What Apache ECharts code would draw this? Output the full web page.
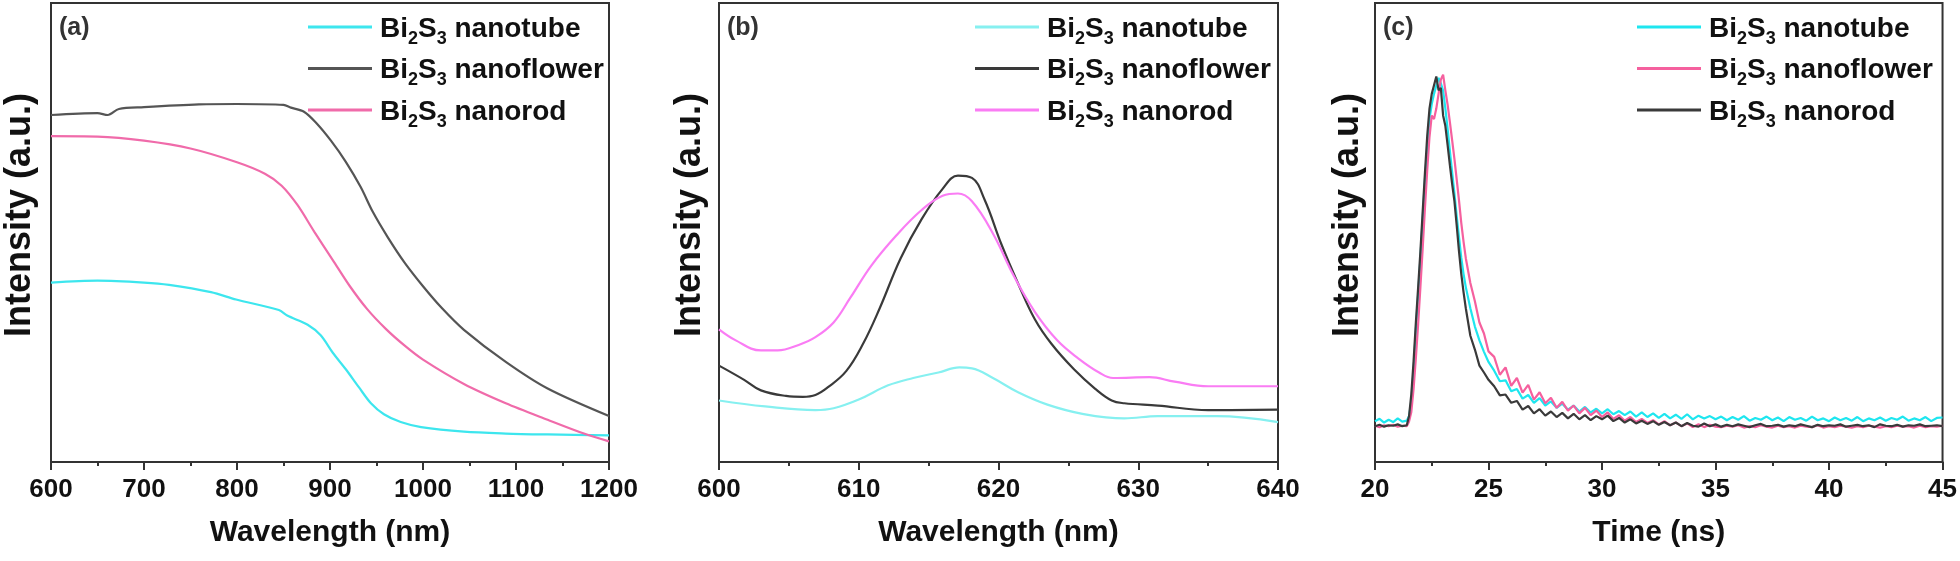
<!DOCTYPE html>
<html>
<head>
<meta charset="utf-8">
<script src="https://cdn.jsdelivr.net/npm/echarts@6/dist/echarts.min.js"></script>
<style>
html,body{margin:0;padding:0;background:#fff;}
#c{width:1960px;height:561px;}
</style>
</head>
<body>
<div id="c"></div>
<script>
// ---------- Panel (a): absorption ----------
const aTubeX = [600, 650, 700, 727, 772, 799, 845, 854, 876, 890, 903, 917, 931, 944, 958, 976, 998, 1044, 1089, 1134, 1200];
const aTubeY = [39.1, 39.5, 39.1, 38.6, 37.0, 35.4, 33.1, 31.9, 29.9, 27.6, 23.8, 20.2, 16.3, 12.8, 10.4, 8.7, 7.6, 6.6, 6.2, 6.0, 5.8];
const aFlowerX = [600, 650, 661, 673, 700, 759, 800, 850, 858, 872, 885, 901, 917, 933, 946, 962, 980, 1000, 1020, 1044, 1089, 1134, 1200];
const aFlowerY = [75.6, 76.0, 75.6, 76.9, 77.3, 77.9, 78.0, 77.8, 77.2, 76.3, 73.9, 70.0, 65.4, 59.9, 54.5, 49.0, 43.5, 38.3, 33.6, 28.8, 21.8, 16.0, 10.0];
const aRodX = [600, 650, 700, 750, 800, 830, 848, 865, 883, 903, 921, 940, 960, 980, 1000, 1044, 1089, 1134, 1173, 1200];
const aRodY = [71.0, 70.9, 70.0, 68.3, 65.3, 62.8, 60.2, 56.0, 50.2, 44.0, 38.4, 33.3, 29.0, 25.4, 22.3, 17.0, 12.8, 9.2, 6.2, 4.5];

// ---------- Panel (b): PL ----------
const bTubeX = [600, 603.3, 606.9, 608.2, 610, 612.1, 613.9, 615.7, 617.2, 618.1, 619.6, 621.4, 623.5, 626, 629, 631.4, 635.6, 640];
const bTubeY = [13.4, 12.1, 11.3, 11.7, 13.6, 16.7, 18.3, 19.5, 20.6, 20.4, 18.3, 15.2, 12.5, 10.5, 9.5, 10.0, 10.0, 8.7];
const bFlowerX = [600, 601.8, 603, 604.8, 606, 606.9, 607.8, 609.1, 610.3, 611.5, 613, 614.5, 616, 617.1, 618.1, 619, 620.2, 621.4, 622.6, 623.8, 625.4, 626.9, 628.1, 629, 631.4, 635, 640];
const bFlowerY = [21.0, 17.9, 15.6, 14.4, 14.2, 14.6, 16.3, 19.8, 25.7, 33.5, 44.4, 52.9, 59.5, 62.4, 61.9, 57.2, 47.5, 38.9, 31.1, 25.7, 20.2, 16.0, 13.4, 12.8, 12.3, 11.3, 11.4];
const bRodX = [600, 601.2, 603, 604.2, 605.7, 606.9, 608.2, 609.4, 610.9, 612.7, 614.5, 616, 617.1, 618.1, 619.6, 621.1, 622.6, 624.2, 625.7, 627.2, 628.2, 630.8, 632.6, 635, 640];
const bRodY = [28.9, 26.5, 24.3, 24.3, 25.5, 27.2, 30.4, 35.8, 42.8, 49.4, 54.9, 58.0, 58.5, 56.8, 49.8, 40.5, 32.7, 26.5, 22.6, 19.5, 18.3, 18.5, 17.5, 16.5, 16.5];

// ---------- Panel (c): TRPL ----------
const cTime = [20.0, 20.2, 20.4, 20.6, 20.8, 21.0, 21.2, 21.4,
  21.5, 21.6, 21.7, 21.8, 21.9, 22.0, 22.1, 22.2, 22.3, 22.4, 22.5, 22.6, 22.7, 22.8, 22.9, 23.0, 23.1, 23.2, 23.3, 23.4, 23.5, 23.6, 23.7, 23.8, 23.9, 24.0,
  24.2, 24.4, 24.6, 24.8, 25.0,
  25.25, 25.5, 25.75, 26.0, 26.25, 26.5, 26.75, 27.0, 27.25, 27.5, 27.75, 28.0, 28.25, 28.5, 28.75, 29.0, 29.25, 29.5, 29.75, 30.0,
  30.25, 30.5, 30.75, 31.0, 31.25, 31.5, 31.75, 32.0, 32.25, 32.5, 32.75, 33.0, 33.25, 33.5, 33.75, 34.0, 34.25, 34.5, 34.75, 35.0,
  35.25, 35.5, 35.75, 36.0, 36.25, 36.5, 36.75, 37.0, 37.25, 37.5, 37.75, 38.0, 38.25, 38.5, 38.75, 39.0, 39.25, 39.5, 39.75, 40.0,
  40.25, 40.5, 40.75, 41.0, 41.25, 41.5, 41.75, 42.0, 42.25, 42.5, 42.75, 43.0, 43.25, 43.5, 43.75, 44.0, 44.25, 44.5, 44.75, 45.0];
const cTube = [8.9, 9.4, 8.6, 9.2, 8.7, 9.5, 8.8, 9.0,
  10.0, 13.2, 20.0, 28.8, 36.5, 44.4, 53.0, 61.5, 68.5, 74.7, 78.0, 80.2, 82.0, 83.7, 82.5, 80.9, 77.0, 72.5, 67.7, 63.0, 58.4, 53.5, 49.0, 44.5, 41.0, 38.1,
  33.5, 29.5, 26.5, 24.0, 21.8,
  19.9, 17.6, 17.8, 15.4, 15.9, 13.8, 14.6, 12.9, 13.9, 12.3, 13.2, 11.8, 12.7, 11.4, 12.3, 11.0, 12.0, 10.8, 11.6, 10.6,
  11.5, 10.4, 11.1, 10.2, 11.0, 9.9, 10.8, 9.8, 10.6, 9.6, 10.5, 9.5, 10.3, 9.4, 10.4, 9.3, 10.1, 9.5, 10.0, 9.3,
  9.9, 9.1, 9.8, 9.2, 10.0, 9.0, 9.6, 9.2, 9.9, 9.1, 9.7, 8.9, 9.8, 9.2, 9.6, 9.0, 9.9, 9.1, 9.5, 8.9,
  9.7, 9.1, 9.6, 9.0, 9.8, 8.9, 9.5, 9.1, 9.7, 9.0, 9.6, 9.2, 9.9, 9.0, 9.5, 9.1, 9.8, 8.9, 9.6, 9.7];
const cFlower = [7.9, 7.6, 8.0, 7.8, 8.1, 7.7, 7.9, 7.8,
  8.8, 10.9, 16.0, 22.6, 30.0, 38.1, 46.5, 55.3, 63.5, 70.8, 75.5, 74.7, 77.0, 80.2, 83.3, 84.4, 80.9, 77.8, 74.0, 70.0, 66.0, 61.5, 57.0, 52.1, 48.0, 44.4,
  39.0, 35.0, 30.4, 28.0, 24.1,
  22.9, 19.0, 20.6, 16.6, 18.3, 15.1, 16.8, 13.6, 15.2, 12.8, 14.0, 11.8, 13.1, 11.2, 12.3, 10.6, 11.8, 10.2, 11.2, 9.8,
  10.8, 9.4, 10.2, 9.0, 9.8, 8.7, 9.4, 8.5, 9.1, 8.2, 8.9, 8.0, 8.6, 7.8, 8.4, 7.6, 8.2, 7.6, 8.1, 7.7,
  7.6, 7.9, 7.7, 8.0, 7.5, 7.8, 7.6, 8.0, 7.7, 7.5, 7.9, 7.6, 7.8, 7.5, 7.9, 7.7, 7.6, 8.0, 7.5, 7.8,
  7.6, 7.9, 7.7, 7.5, 7.8, 7.6, 7.9, 7.7, 7.5, 7.8, 7.6, 7.9, 7.7, 7.8, 7.5, 7.9, 7.6, 7.8, 7.7, 7.9];
const cRod = [7.8, 8.1, 7.7, 8.0, 7.9, 8.2, 7.8, 8.0,
  10.0, 14.8, 22.0, 30.4, 38.0, 45.9, 54.5, 63.0, 71.0, 77.0, 80.2, 82.1, 84.0, 81.0, 81.5, 75.5, 73.2, 69.0, 64.6, 60.5, 56.8, 51.5, 45.9, 41.0, 37.0, 33.5,
  27.5, 24.5, 21.0, 19.5, 17.9,
  16.5, 14.5, 14.7, 12.9, 13.3, 11.4, 12.2, 10.6, 11.5, 10.1, 11.0, 9.8, 10.7, 9.5, 10.5, 9.3, 10.2, 9.1, 10.0, 9.3,
  10.1, 8.9, 9.6, 8.6, 9.3, 8.4, 9.0, 8.3, 8.9, 8.1, 8.7, 8.0, 8.6, 7.8, 8.5, 7.9, 7.7, 8.4, 7.8, 8.2,
  7.7, 8.1, 7.8, 8.2, 7.9, 7.6, 8.0, 8.3, 7.8, 7.9, 8.1, 7.7, 8.0, 7.8, 8.2, 7.9, 7.6, 8.1, 7.8, 8.0,
  7.9, 8.2, 7.7, 7.9, 8.1, 7.8, 8.0, 7.6, 8.2, 7.9, 7.8, 8.1, 7.7, 8.0, 7.9, 8.2, 7.8, 7.9, 8.0, 7.8];

// ---------- labels ----------
const panelLabels = ['(a)', '(b)', '(c)'];
const xTitles = ['Wavelength (nm)', 'Wavelength (nm)', 'Time (ns)'];
const yTitle = 'Intensity (a.u.)';
const legendNames = ['nanotube', 'nanoflower', 'nanorod'];

const FONT = "'Liberation Sans', Arial, Helvetica, sans-serif";
const zip = (xs, ys) => xs.map((x, i) => [x, ys[i]]);

const grids = [
  { left: 51, width: 558, top: 3, height: 459 },
  { left: 719, width: 559, top: 3, height: 459 },
  { left: 1375, width: 568, top: 3, height: 459 }
].map(g => Object.assign(g, { show: true, borderColor: '#333', borderWidth: 2, backgroundColor: 'transparent' }));

const xRanges = [[600, 1200, 100], [600, 640, 10], [20, 45, 5]];
const yNameGaps = [13, 11, 9];

const xAxes = xRanges.map((r, i) => ({
  type: 'value', gridIndex: i, min: r[0], max: r[1], interval: r[2],
  splitLine: { show: false },
  axisLine: { show: true, lineStyle: { color: '#333', width: 2 } },
  axisTick: { show: true, inside: false, length: 8, lineStyle: { color: '#333', width: 2 } },
  minorTick: { show: true, splitNumber: 2, length: 4, lineStyle: { color: '#333', width: 2 } },
  axisLabel: { margin: 15, fontSize: 26, fontWeight: 'bold', color: '#111', fontFamily: FONT, formatter: v => String(v) },
  name: xTitles[i], nameLocation: 'middle', nameGap: 56,
  nameTextStyle: { fontSize: 30, fontWeight: 'bold', color: '#111', fontFamily: FONT }
}));

const yAxes = [0, 1, 2].map(i => ({
  type: 'value', gridIndex: i, min: 0, max: 100,
  splitLine: { show: false },
  axisLine: { show: true, lineStyle: { color: '#333', width: 2 } },
  axisTick: { show: false }, axisLabel: { show: false },
  name: yTitle, nameLocation: 'middle', nameGap: yNameGaps[i],
  nameTextStyle: { fontSize: 36, fontWeight: 'bold', color: '#111', fontFamily: FONT, padding: [0, 0, 0, 35] }
}));

function line(panel, name, data, color, width, smooth, z) {
  return {
    type: 'line', name: panel + ':' + name, xAxisIndex: 'abc'.indexOf(panel), yAxisIndex: 'abc'.indexOf(panel),
    data, showSymbol: false, symbol: 'none', smooth, z,
    lineStyle: { color, width }, itemStyle: { color }
  };
}

const colA = ['#3de6ee', '#555555', '#f06baa'];
const colB = ['#86f0f0', '#3a3a3a', '#fa7cf4'];
const colC = ['#1ee6ef', '#f5609e', '#3a3a3a'];

const series = [
  line('a', legendNames[0], zip(aTubeX, aTubeY), colA[0], 2.2, 0.3, 2),
  line('a', legendNames[1], zip(aFlowerX, aFlowerY), colA[1], 2.2, 0.3, 2),
  line('a', legendNames[2], zip(aRodX, aRodY), colA[2], 2.2, 0.3, 2),
  line('b', legendNames[0], zip(bTubeX, bTubeY), colB[0], 2.2, 0.4, 2),
  line('b', legendNames[1], zip(bFlowerX, bFlowerY), colB[1], 2.2, 0.4, 2),
  line('b', legendNames[2], zip(bRodX, bRodY), colB[2], 2.2, 0.4, 2),
  line('c', legendNames[0], zip(cTime, cTube), colC[0], 2.2, false, 2),
  line('c', legendNames[1], zip(cTime, cFlower), colC[1], 2.2, false, 3),
  line('c', legendNames[2], zip(cTime, cRod), colC[2], 2.2, false, 4)
];

const rich = {
  m0: { fontSize: 28, fontWeight: 'bold', color: '#111', fontFamily: FONT, lineHeight: 30, padding: [3, 0, 0, 3], verticalAlign: 'top' },
  m: { fontSize: 28, fontWeight: 'bold', color: '#111', fontFamily: FONT, lineHeight: 30, padding: [3, 0, 0, 0], verticalAlign: 'top' },
  s: { fontSize: 18, fontWeight: 'bold', color: '#111', fontFamily: FONT, lineHeight: 18, padding: [18, 0, 0, 0], verticalAlign: 'top' }
};
function legend(panel, left) {
  return {
    orient: 'vertical', left, top: 12, padding: 0, itemGap: 5.5,
    itemWidth: 64, itemHeight: 3, icon: 'rect', selectedMode: false,
    data: legendNames.map(n => panel + ':' + n),
    textStyle: { rich },
    formatter: n => '{m0|Bi}{s|2}{m|S}{s|3}{m| ' + n.split(':')[1] + '}'
  };
}

const titles = [[59, 16], [727, 16], [1383, 16]].map((p, i) => ({
  text: panelLabels[i], left: p[0], top: p[1], padding: 0,
  textStyle: { fontSize: 25, fontWeight: 'bold', color: '#333', fontFamily: FONT }
}));

const chart = echarts.init(document.getElementById('c'), null, { renderer: 'canvas' });
chart.setOption({
  animation: false,
  backgroundColor: '#fff',
  title: titles,
  legend: [legend('a', 308), legend('b', 975), legend('c', 1637)],
  grid: grids,
  xAxis: xAxes,
  yAxis: yAxes,
  series
});
</script>
</body>
</html>
